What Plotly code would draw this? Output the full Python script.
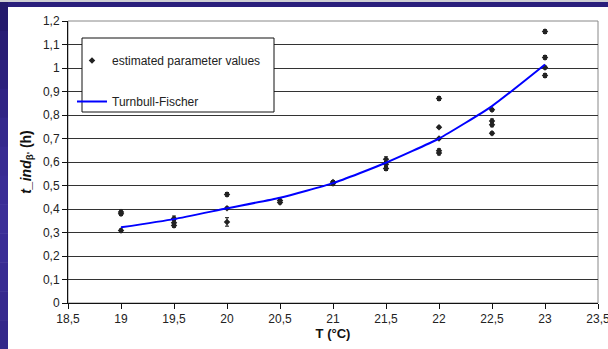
import plotly.graph_objects as go

# Estimated induction times with their standard errors
temp_est = [19, 19, 19, 19.5, 19.5, 19.5, 20, 20, 20, 20.5, 20.5, 21, 21,
            21.5, 21.5, 21.5, 22, 22, 22, 22, 22, 22.5, 22.5, 22.5, 22.5,
            23, 23, 23, 23]
tind_est = [0.387, 0.380, 0.308, 0.360, 0.342, 0.330, 0.462, 0.403, 0.345,
            0.436, 0.428, 0.515, 0.508, 0.612, 0.590, 0.572, 0.870, 0.748,
            0.700, 0.648, 0.638, 0.822, 0.775, 0.758, 0.722, 1.155, 1.045,
            1.002, 0.968]
tind_err = [0.008, 0.008, 0.007, 0.010, 0.008, 0.008, 0.008, 0.005, 0.018,
            0.006, 0.006, 0.006, 0.006, 0.010, 0.008, 0.008, 0.008, 0.004,
            0.004, 0.008, 0.008, 0.006, 0.008, 0.008, 0.006, 0.008, 0.008,
            0.006, 0.008]

# Turnbull-Fischer model curve
temp_tf = [19, 19.5, 20, 20.5, 21, 21.5, 22, 22.5, 23]
tind_tf = [0.322, 0.357, 0.403, 0.448, 0.510, 0.597, 0.700, 0.838, 1.015]

x_ticks = [18.5, 19, 19.5, 20, 20.5, 21, 21.5, 22, 22.5, 23, 23.5]
y_ticks = [0, 0.1, 0.2, 0.3, 0.4, 0.5, 0.6, 0.7, 0.8, 0.9, 1.0, 1.1, 1.2]

W, H = 608, 349
L, R, T, B = 68, 10, 21, 46
PW, PH = W - L - R, H - T - B


def px(x):
    return (x - L) / PW


def py(y):
    return (H - B - y) / PH


FONT = "Liberation Sans, Arial, sans-serif"

fig = go.Figure()
fig.add_trace(go.Scatter(
    x=temp_est, y=tind_est, mode="markers", name="estimated parameter values",
    legendgroup="a",
    marker=dict(symbol="diamond", size=5, color="#222222"),
    error_y=dict(type="data", array=tind_err, visible=True, color="#111111",
                 thickness=1, width=2),
))
fig.add_trace(go.Scatter(
    x=temp_tf, y=tind_tf, mode="lines", name="Turnbull-Fischer",
    legendgroup="b",
    line=dict(color="#0000ff", width=2, shape="spline", smoothing=0.5),
))

shapes = []
# plot frame (top/right in gray)
shapes.append(dict(type="rect", xref="paper", yref="paper", x0=0, x1=1, y0=0, y1=1,
                   line=dict(color="#888888", width=1), layer="below"))
# legend box
shapes.append(dict(type="rect", xref="paper", yref="paper",
                   x0=px(82), x1=px(274), y0=py(112), y1=py(38),
                   line=dict(color="#111111", width=1), fillcolor="white", layer="above"))
# dark blue frame: top strip and left strip with a vertical colour gradient
shapes.append(dict(type="rect", xref="paper", yref="paper",
                   x0=px(0), x1=px(W), y0=py(2), y1=py(0),
                   line=dict(width=0), fillcolor="#cfcfd4", layer="above"))
shapes.append(dict(type="rect", xref="paper", yref="paper",
                   x0=px(0), x1=px(W), y0=py(7), y1=py(2),
                   line=dict(width=0), fillcolor="#2a1f7c", layer="above"))
band_cols = ["#241a6c", "#281d74", "#2c217c", "#302484", "#34288c", "#382b92",
             "#3a2d96", "#3c2f98", "#3a2d96", "#382b92", "#36298e", "#34288a"]
n = len(band_cols)
for i, c in enumerate(band_cols):
    y0 = 2 + (H - 2) * i / n
    y1 = 2 + (H - 2) * (i + 1) / n
    shapes.append(dict(type="rect", xref="paper", yref="paper",
                       x0=px(0), x1=px(8), y0=py(y1 + 0.5), y1=py(y0),
                       line=dict(width=0), fillcolor=c, layer="above"))

fig.update_layout(
    width=W, height=H,
    margin=dict(l=L, r=R, t=T, b=B, autoexpand=False),
    paper_bgcolor="white", plot_bgcolor="white",
    separators=", ",
    font=dict(family=FONT, size=12, color="#222222"),
    showlegend=True,
    legend=dict(x=px(72), y=py(46), xanchor="left", yanchor="top",
                bgcolor="rgba(0,0,0,0)", borderwidth=0,
                tracegroupgap=22, font=dict(family=FONT, size=12, color="#222222")),
    shapes=shapes,
    xaxis=dict(range=[18.5, 23.5], tickvals=x_ticks, ticks="outside", ticklen=5,
               tickcolor="#111111", showline=True, linecolor="#111111", linewidth=1,
               showgrid=False, zeroline=False, ticklabeloverflow="allow",
               automargin=False,
               tickfont=dict(family=FONT, size=12, color="#222222"),
               title=dict(text="<b>T (°C)</b>", standoff=2,
                          font=dict(family=FONT, size=13, color="#111111"))),
    yaxis=dict(range=[0, 1.2], tickvals=y_ticks, ticks="outside", ticklen=5,
               tickcolor="#111111", showline=True, linecolor="#111111", linewidth=1,
               showgrid=True, gridcolor="#333333", gridwidth=1, zeroline=False,
               automargin=False,
               tickfont=dict(family=FONT, size=12, color="#222222"),
               title=dict(text="<b><i>t_ind</i><sub>β'</sub> (h)</b>", standoff=8,
                          font=dict(family=FONT, size=14, color="#111111"))),
)

fig.write_html("out.html")
